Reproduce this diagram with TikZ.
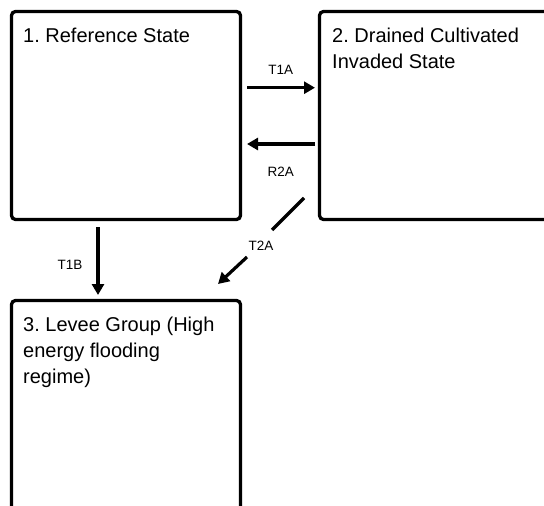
\documentclass[tikz,border=0pt]{standalone}
\usepackage{fontspec}
\setmainfont{Liberation Sans}
\usetikzlibrary{arrows.meta,calc}
\frenchspacing
\begin{document}
\begin{tikzpicture}[x=1pt,y=-1pt,
  statebox/.style={draw, line width=3.3pt, rounded corners=4pt, outer sep=0pt, inner sep=0pt, anchor=north west},
  statetext/.style={inner sep=0pt, anchor=base west, align=left, font=\fontsize{20}{25.7}\selectfont},
  lbl/.style={inner sep=0pt, font=\fontsize{13.5}{15}\selectfont},
  arr/.style={line width=3.2pt, -{Triangle[length=11pt,width=12pt]}},
  seg/.style={line width=3.2pt}]
\useasboundingbox (0,0) rectangle (544,506);
\fill[white] (0,0) rectangle (544,506);
% state boxes
\node[statebox, minimum width=229pt, minimum height=208pt] (b1) at (11.5,11.5) {};
\node[statebox, minimum width=260pt, minimum height=208pt] (b2) at (319.5,11.5) {};
\node[statebox, minimum width=229pt, minimum height=240pt] (b3) at (11.5,300.5) {};
% state texts (base anchor = baseline of the last line)
\node[statetext] (t1) at ($(b1.north west)+(11.5,31.2)$) {1. Reference State};
\node[statetext] (t2) at ($(b2.north west)+(12.5,56.9)$) {2. Drained Cultivated\\Invaded State};
\node[statetext] (t3) at ($(b3.north west)+(11.5,82.6)$) {3. Levee Group (High\\energy flooding\\regime)};
% arrow end points
\coordinate (a1s) at (247,87.7);
\coordinate (a1e) at (315,87.7);
\coordinate (a2s) at (315,144);
\coordinate (a2e) at (247,144);
\coordinate (a3s) at (98,227);
\coordinate (a3e) at (98,295);
\coordinate (a4s) at (304,198);
\coordinate (a4m) at (272,230);
\coordinate (a4n) at (247,257);
\coordinate (a4e) at (218,284);
% transitions
\draw[arr] (a1s) -- (a1e);
\draw[arr] (a2s) -- (a2e);
\draw[arr] (a3s) -- (a3e);
\draw[seg] (a4s) -- (a4m);
\draw[arr] (a4n) -- (a4e);
% labels
\node[lbl] (l1) at (280.7,70) {T1A};
\node[lbl] (l2) at (280.7,171.7) {R2A};
\node[lbl] (l3) at (70,265) {T1B};
\node[lbl] (l4) at (261,246) {T2A};
\end{tikzpicture}
\end{document}
